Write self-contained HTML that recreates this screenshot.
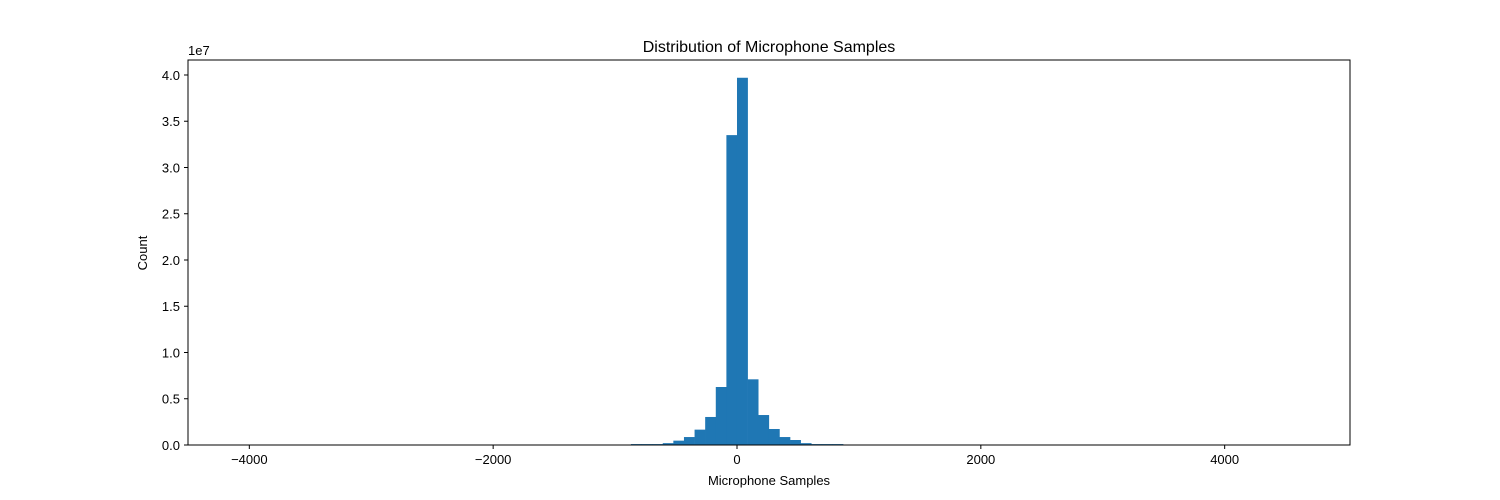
<!DOCTYPE html>
<html><head><meta charset="utf-8"><style>
body{margin:0;background:#fff}
svg{display:block;font-family:"Liberation Sans","DejaVu Sans",sans-serif}
</style></head><body>
<svg id="c" width="1500" height="500"></svg>
<script>
const binStart = -870;
const binWidth = 87;
const counts = [0.01,0.01,0.01,0.02,0.047,0.086,0.166,0.303,0.627,3.35,3.97,0.71,0.324,0.173,0.086,0.054,0.02,0.01,0.01,0.01];
const xTicks = [-4000,-2000,0,2000,4000];
const xTickLabels = ["\u22124000","\u22122000","0","2000","4000"];
const yTicks = [0,0.5,1,1.5,2,2.5,3,3.5,4];
const yTickLabels = ["0.0","0.5","1.0","1.5","2.0","2.5","3.0","3.5","4.0"];

const L=188,R=1350,T=60,B=445;
const xMin=-4503,xMax=5028,yMin=0,yMax=4.162;
const X=v=>L+(v-xMin)/(xMax-xMin)*(R-L);
const Y=v=>B-(v-yMin)/(yMax-yMin)*(B-T);
const svg=document.getElementById('c');
const NS='http://www.w3.org/2000/svg';
function mk(tag,attrs,text){const e=document.createElementNS(NS,tag);for(const k in attrs)e.setAttribute(k,attrs[k]);if(text!==undefined)e.textContent=text;svg.appendChild(e);return e;}

counts.forEach((c,i)=>{
  const x0=X(binStart+i*binWidth),x1=X(binStart+(i+1)*binWidth);
  const r=mk('rect',{x:x0,y:Y(c),width:x1-x0+0.3,height:B-Y(c),fill:'#1f77b4'});
  
  
});

const frame=mk('rect',{x:L,y:T,width:R-L,height:B-T,fill:'none',stroke:'#000','stroke-width':1});



xTicks.forEach((v,i)=>{
  const x=X(v);
  const t=mk('line',{x1:x,x2:x,y1:B,y2:B+4,stroke:'#000'});
  
  
  const l=mk('text',{x:x,y:B+19,'text-anchor':'middle','font-size':13},xTickLabels[i]);
  
  
});
yTicks.forEach((v,i)=>{
  const y=Y(v);
  const t=mk('line',{x1:L-4,x2:L,y1:y,y2:y,stroke:'#000'});
  
  
  const l=mk('text',{x:L-8,y:y+5,'text-anchor':'end','font-size':13},yTickLabels[i]);
  
  
});
</script>
<script>
(function(){
const svg=document.getElementById('c');const NS='http://www.w3.org/2000/svg';
function mk(tag,attrs,text){const e=document.createElementNS(NS,tag);for(const k in attrs)e.setAttribute(k,attrs[k]);if(text!==undefined)e.textContent=text;svg.appendChild(e);return e;}
const a=mk('text',{x:188,y:55,'font-size':13},'1e7');


const t=mk('text',{x:769,y:52,'text-anchor':'middle','font-size':16},'Distribution of Microphone Samples');


const xl=mk('text',{x:769,y:485,'text-anchor':'middle','font-size':13},'Microphone Samples');


const yl=mk('text',{x:147,y:253,'text-anchor':'middle','font-size':13,transform:'rotate(-90 147 253)'},'Count');


})();
</script>
</body></html>
